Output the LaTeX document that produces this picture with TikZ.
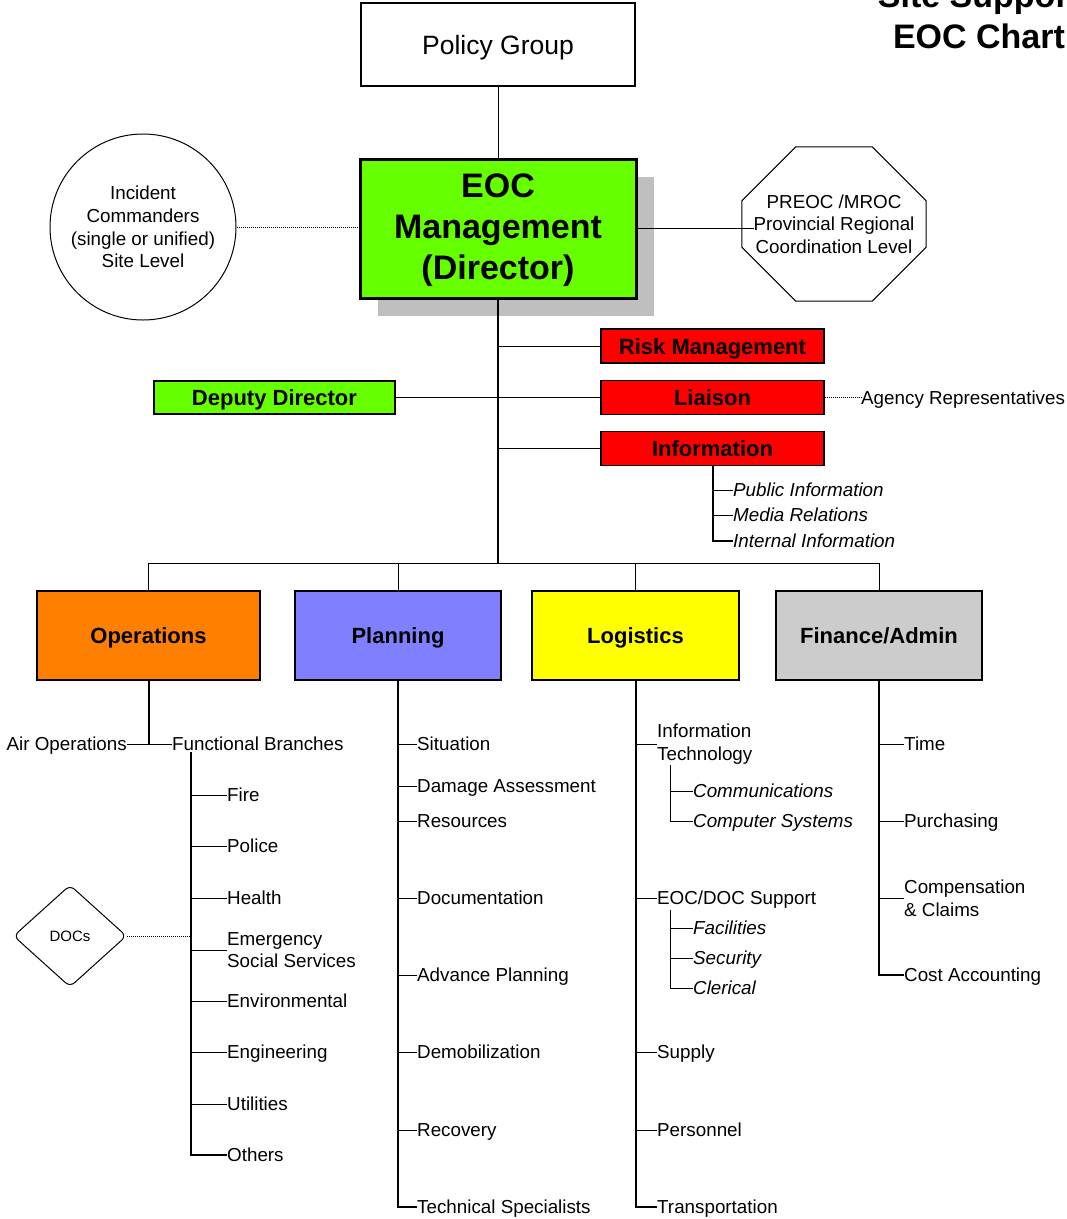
\documentclass[tikz,border=0pt]{standalone}
\usepackage{fontspec}
\setmainfont{Liberation Sans}
\usetikzlibrary{positioning, calc, shapes.geometric, shadows}
\definecolor{eoc_green}{RGB}{102,255,0}
\definecolor{eoc_red}{RGB}{255,0,0}
\definecolor{ops_orange}{RGB}{255,128,0}
\definecolor{pln_blue}{RGB}{128,128,255}
\definecolor{log_yellow}{RGB}{255,255,0}
\definecolor{fin_grey}{RGB}{204,204,204}

\begin{document}
\begin{tikzpicture}[x=1pt, y=-1pt, font=\fontsize{18.8}{22.6}\selectfont,
      box/.style={draw, line width=1.2pt, align=center, inner sep=0pt},
      dept/.style={box, font=\fontsize{22}{26}\selectfont\bfseries, text height=16pt, text depth=0pt,
        minimum width=207pt, minimum height=89pt},
      cmd/.style={box, fill=eoc_red, font=\fontsize{22}{26}\selectfont\bfseries, text height=16pt, text depth=0pt,
        minimum width=223pt, minimum height=34pt},
      itm/.style={anchor=west, inner sep=0pt, text height=13pt, text depth=0pt},
      itm2/.style={anchor=west, inner sep=0pt, align=left},
      itl/.style={itm, font=\fontsize{18.8}{22.6}\selectfont\itshape},
      ln/.style={line width=1pt},
      trunk/.style={line width=2pt}]
    \useasboundingbox (0,0) rectangle (1067,1219);
    \fill[white] (0,0) rectangle (1067,1219);
    % title
    \node[font=\fontsize{34}{41}\selectfont\bfseries, anchor=base] (ttl1) at (979,7) {Site Support};
    \node[font=\fontsize{34}{41}\selectfont\bfseries, anchor=base] (ttl2) at (979,48) {EOC Chart};
    % top of the chart
    \node[box, minimum width=274pt, minimum height=83pt, font=\fontsize{26.5}{30}\selectfont,
          text height=19pt, text depth=0pt] (pol) at (498,44.5) {Policy Group};
    \node[box, fill=eoc_green, line width=3pt, minimum width=276pt, minimum height=139pt,
          font=\fontsize{34}{41}\selectfont\bfseries,
          drop shadow={shadow xshift=18pt, shadow yshift=-18pt, fill=black!25, opacity=1}] (eoc) at (498,228.5)
          {\rule{0pt}{27pt}EOC\\Management\\(Director)};
    \node[circle, draw, ln, minimum size=186pt, align=center, inner sep=0pt] (ic) at (143,227)
          {Incident\\Commanders\\(single or unified)\\Site Level};
    \node[minimum width=184pt, minimum height=154pt, align=center, inner sep=0pt] (pre) at (834,224)
          {PREOC /MROC\\Provincial Regional\\Coordination Level};
    \draw[ln] ($(pre.north west)+(54,0)$) -- ($(pre.north east)+(-54,0)$) -- ($(pre.north east)+(0,54)$)
      -- ($(pre.south east)+(0,-54)$) -- ($(pre.south east)+(-54,0)$) -- ($(pre.south west)+(54,0)$)
      -- ($(pre.south west)+(0,-54)$) -- ($(pre.north west)+(0,54)$) -- cycle;
    \draw[ln] (pol.south) -- (eoc.north);
    \draw[ln, densely dotted] (ic.east) -- (ic.east -| eoc.west);
    \draw[ln] (eoc.east) -- ($(eoc.east -| pre.west)+(12,0)$);
    % command staff
    \node[cmd] (risk) at (712.5,346) {Risk Management};
    \node[cmd] (lia) at (712.5,397.5) {Liaison};
    \node[cmd] (inf) at (712.5,448.5) {Information};
    \node[box, fill=eoc_green, font=\fontsize{22}{26}\selectfont\bfseries, text height=16pt, text depth=0pt,
          minimum width=241pt, minimum height=33pt] (dep) at (274.5,397.5) {Deputy Director};
    \node[itm] (agy) at (861,397.5) {Agency Representatives};
    \coordinate (bar) at (498,563);
    \draw[trunk] (eoc.south) -- (bar);
    \draw[ln] (eoc.south |- risk.west) -- (risk.west);
    \draw[ln] (dep.east) -- (lia.west);
    \draw[ln] (eoc.south |- inf.west) -- (inf.west);
    \draw[ln, densely dotted] (lia.east) -- (agy.west);
    \node[itl] (pub) at (733,490) {Public Information};
    \node[itl] (med) at (733,515) {Media Relations};
    \node[itl] (iint) at (733,541) {Internal Information};
    \draw[trunk] (inf.south) |- (iint.west);
    \foreach \n in {pub, med} \draw[ln] (inf.south |- \n.west) -- (\n.west);
    % sections
    \node[dept, fill=ops_orange, minimum width=223pt] (ops) at (148.5,635.5) {Operations};
    \node[dept, fill=pln_blue, minimum width=206pt] (pln) at (398,635.5) {Planning};
    \node[dept, fill=log_yellow] (lgs) at (635.5,635.5) {Logistics};
    \node[dept, fill=fin_grey, minimum width=206pt] (fin) at (879,635.5) {Finance/Admin};
    \draw[ln] (ops.north) |- (fin.north |- bar) -- (fin.north);
    \foreach \n in {pln, lgs} \draw[ln] (\n.north) -- (\n.north |- bar);
    % operations
    \node[itm, anchor=east] (air) at (127,744) {Air Operations};
    \node[itm] (fb) at (172,744) {Functional Branches};
    \coordinate (fbtop) at (191,752);
    \node[itm] (fire) at (227,795) {Fire};
    \node[itm] (plc) at (227,846) {Police};
    \node[itm] (hlth) at (227,898) {Health};
    \node[itm2] (ess) at (227,950) {Emergency\\Social Services};
    \node[itm] (env) at (227,1001) {Environmental};
    \node[itm] (eng) at (227,1052) {Engineering};
    \node[itm] (util) at (227,1104) {Utilities};
    \node[itm] (oth) at (227,1155) {Others};
    \node[draw, ln, diamond, rounded corners=6pt, aspect=1.1, minimum width=113pt, minimum height=102pt,
          inner sep=0pt, font=\fontsize{15}{18}\selectfont] (docs) at (70,936) {DOCs};
    \draw[trunk] (ops.south) -- (ops.south |- air.east);
    \draw[ln] (air.east) -- (fb.west);
    \draw[trunk] (fbtop) |- (oth.west);
    \foreach \n in {fire, plc, hlth, ess, env, eng, util} \draw[ln] (fbtop |- \n.west) -- (\n.west);
    \draw[ln, densely dotted] (docs.east) -- (docs.east -| fbtop);
    % planning
    \node[itm] (sit) at (417,744) {Situation};
    \node[itm] (dmg) at (417,786) {Damage Assessment};
    \node[itm] (res) at (417,821) {Resources};
    \node[itm] (doc) at (417,898) {Documentation};
    \node[itm] (adv) at (417,975) {Advance Planning};
    \node[itm] (dem) at (417,1052) {Demobilization};
    \node[itm] (rec) at (417,1130) {Recovery};
    \node[itm] (tsp) at (417,1207) {Technical Specialists};
    \draw[trunk] (pln.south) |- (tsp.west);
    \foreach \n in {sit, dmg, res, doc, adv, dem, rec} \draw[ln] (pln.south |- \n.west) -- (\n.west);
    % logistics
    \node[itm2] (it) at (657,744) {Information\\Technology};
    \node[itm] (eds) at (657,898) {EOC/DOC Support};
    \node[itm] (sup) at (657,1052) {Supply};
    \node[itm] (per) at (657,1130) {Personnel};
    \node[itm] (trn) at (657,1207) {Transportation};
    \draw[trunk] (lgs.south) |- (trn.west);
    \foreach \n in {it, eds, sup, per} \draw[ln] (lgs.south |- \n.west) -- (\n.west);
    \coordinate (itsub) at (670,765);
    \node[itl] (com) at (693,791) {Communications};
    \node[itl] (csy) at (693,821) {Computer Systems};
    \draw[ln] (itsub) |- (csy.west);
    \draw[ln] (itsub |- com.west) -- (com.west);
    \coordinate (edsub) at (670,910);
    \node[itl] (fac) at (693,928) {Facilities};
    \node[itl] (scy) at (693,958) {Security};
    \node[itl] (clr) at (693,988) {Clerical};
    \draw[ln] (edsub) |- (clr.west);
    \foreach \n in {fac, scy} \draw[ln] (edsub |- \n.west) -- (\n.west);
    % finance / admin
    \node[itm] (tim) at (904,744) {Time};
    \node[itm] (pur) at (904,821) {Purchasing};
    \node[itm2] (cmp) at (904,898) {Compensation\\\& Claims};
    \node[itm] (cst) at (904,975) {Cost Accounting};
    \draw[trunk] (fin.south) |- (cst.west);
    \foreach \n in {tim, pur, cmp} \draw[ln] (fin.south |- \n.west) -- (\n.west);
  \end{tikzpicture}
\end{document}
